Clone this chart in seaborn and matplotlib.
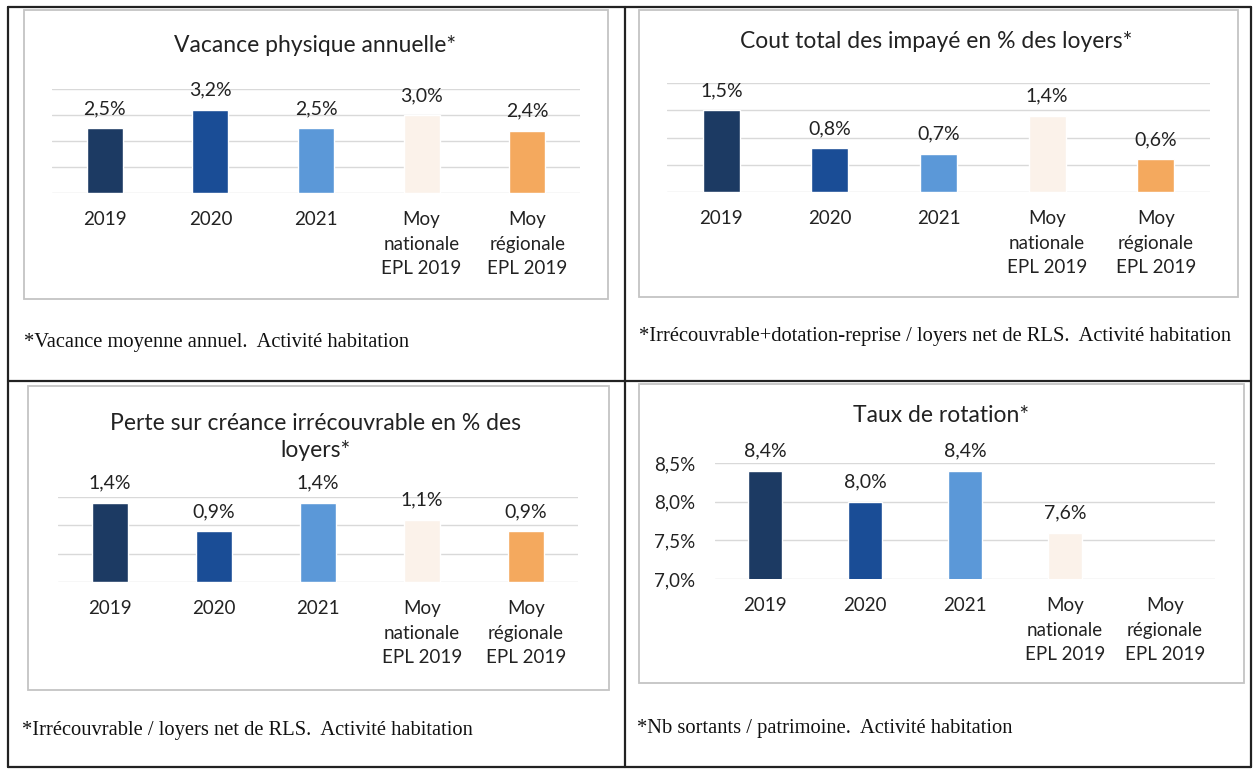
import matplotlib
matplotlib.use("Agg")
import matplotlib.pyplot as plt
import seaborn as sns
import numpy as np
import pandas as pd
from matplotlib.lines import Line2D
from matplotlib.patches import Rectangle
from matplotlib.ticker import FuncFormatter

# ---------------- data ----------------
categories = ["2019", "2020", "2021",
              "Moy\nnationale\nEPL 2019", "Moy\nrégionale\nEPL 2019"]
bar_colors = ["#1C3A63", "#1A4D96", "#5B98D8", "#FBF2EA", "#F4A95E"]

vacance_values = [2.5, 3.2, 2.5, 3.0, 2.4]
impayes_values = [1.5, 0.8, 0.7, 1.4, 0.6]
perte_values = [1.4, 0.9, 1.4, 1.1, 0.9]
rotation_values = [8.4, 8.0, 8.4, 7.6, np.nan]

titles = ["Vacance physique annuelle*",
          "Cout total des impayé en % des loyers*",
          "Perte sur créance irrécouvrable en % des\nloyers*",
          "Taux de rotation*"]
footnotes = ["*Vacance moyenne annuel.  Activité habitation",
             "*Irrécouvrable+dotation-reprise / loyers net de RLS.  Activité habitation",
             "*Irrécouvrable / loyers net de RLS.  Activité habitation",
             "*Nb sortants / patrimoine.  Activité habitation"]
ylims = [(0, 4), (0, 2.0), (0, 1.5), (7.0, 8.5)]
yticks = [[0, 1, 2, 3, 4], [0, 0.5, 1.0, 1.5, 2.0], [0, 0.5, 1.0, 1.5],
          [7.0, 7.5, 8.0, 8.5]]

# ---------------- layout (pixels) ----------------
W, H = 1255, 769
sns.set_theme(style="white")
plt.rcParams["font.family"] = ["Lato", "DejaVu Sans"]
fig = plt.figure(figsize=(W / 100, H / 100), dpi=100)
fig.patch.set_facecolor("white")


def frac_rect(x0, y0, x1, y1):
    return [x0 / W, 1 - y1 / H, (x1 - x0) / W, (y1 - y0) / H]


axes_px = [(52, 89, 580, 193), (667, 83, 1210, 192),
           (58, 497, 578, 582), (715, 463, 1215, 579)]
title_pos = [(315, 45), (936, 42), (316, 437), (941, 416)]
foot_pos = [(24, 342), (639, 337), (22, 730), (637, 728)]
boxes_px = [(24, 10, 608, 299), (639, 10, 1238, 297),
            (28, 386, 609, 690), (639, 384, 1244, 683)]

text_color = "#222222"
datasets = [vacance_values, impayes_values, perte_values, rotation_values]


def pct(v):
    if v is None or np.isnan(v):
        return ""
    return f"{v:.1f}%".replace(".", ",")


for i in range(4):
    # chart box
    bx0, by0, bx1, by1 = boxes_px[i]
    fig.patches.append(Rectangle((bx0 / W, 1 - by1 / H), (bx1 - bx0) / W,
                                 (by1 - by0) / H, transform=fig.transFigure,
                                 fill=False, edgecolor="#C4C4C4", lw=1.3))

    ax = fig.add_axes(frac_rect(*axes_px[i]))
    df = pd.DataFrame({"cat": categories, "val": datasets[i]})
    sns.barplot(data=df, x="cat", y="val", hue="cat", order=categories,
                hue_order=categories, palette=bar_colors, width=0.34,
                legend=False, ax=ax, saturation=1)
    ax.set_ylim(*ylims[i])
    ax.set_xlim(-0.5, 4.5)
    ax.set_yticks(yticks[i])
    ax.grid(axis="y", color="#D9D9D9", lw=1.0)
    ax.set_axisbelow(True)
    for s in ax.spines.values():
        s.set_visible(False)
    ax.set_xlabel("")
    ax.set_ylabel("")
    ax.set_facecolor("none")
    ax.tick_params(axis="x", length=0, pad=13, labelsize=13.5,
                   labelcolor=text_color)
    for lab in ax.get_xticklabels():
        lab.set_linespacing(1.55)
        lab.set_verticalalignment("top")
    if i == 3:
        ax.yaxis.set_major_formatter(FuncFormatter(lambda v, p: pct(v)))
        ax.tick_params(axis="y", length=0, pad=14, labelsize=13.5,
                       labelcolor=text_color)
    else:
        ax.tick_params(axis="y", length=0, labelleft=False)
    for c in ax.containers:
        ax.bar_label(c, fmt=pct, padding=8, fontsize=14,
                     color=text_color, clip_on=False)

    tx, ty = title_pos[i]
    fig.text(tx / W, 1 - ty / H, titles[i], ha="center", va="center",
             fontsize=16.5, color=text_color, linespacing=1.35)
    fx, fy = foot_pos[i]
    fig.text(fx / W, 1 - fy / H, footnotes[i], ha="left", va="center",
             fontsize=14.8, color="#111111", family=["Liberation Serif"])

# table lines
def hline(y, x0, x1, lw=1.6):
    fig.lines.append(Line2D([x0 / W, x1 / W], [1 - y / H, 1 - y / H],
                            transform=fig.transFigure, color="#222222", lw=lw))


def vline(x, y0, y1, lw=1.6):
    fig.lines.append(Line2D([x / W, x / W], [1 - y0 / H, 1 - y1 / H],
                            transform=fig.transFigure, color="#222222", lw=lw))


hline(7, 8, 1251)
hline(381, 8, 1251)
hline(767, 8, 1251)
vline(8, 7, 767)
vline(625, 7, 767)
vline(1251, 7, 767)

fig.savefig("out.png", dpi=100)
